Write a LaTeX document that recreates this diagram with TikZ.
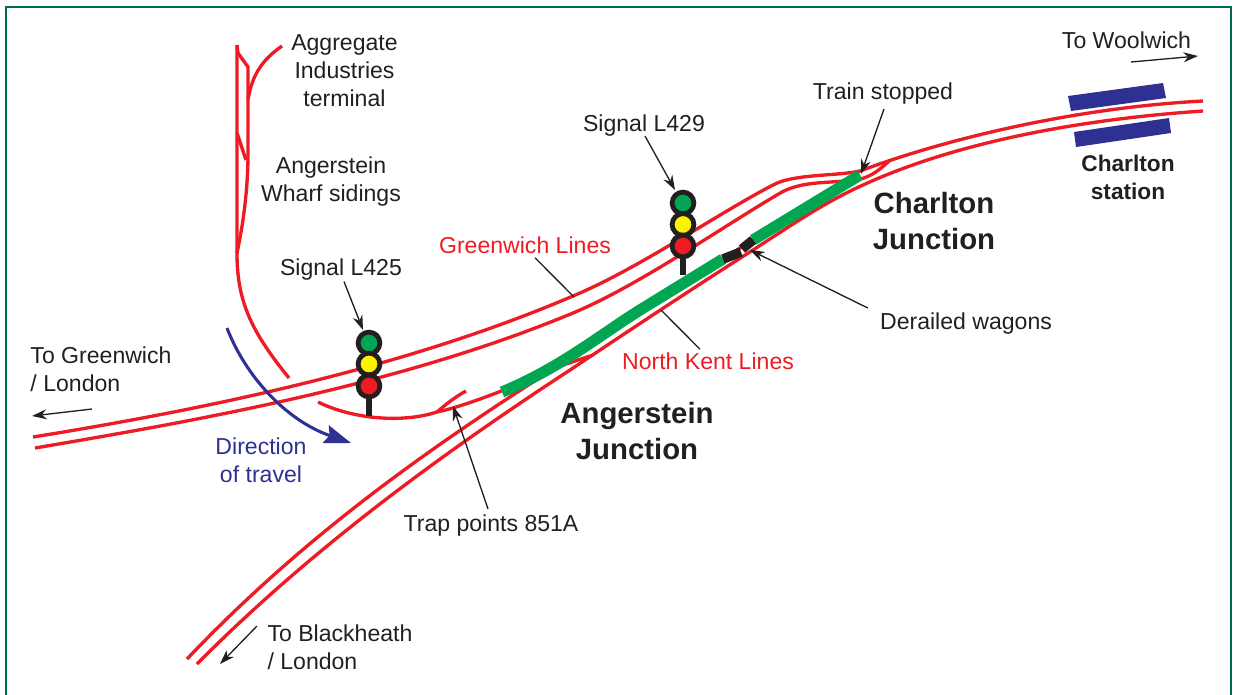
\documentclass[tikz,border=0pt]{standalone}
\usepackage{fontspec}
\setmainfont{Liberation Sans}
\usetikzlibrary{arrows.meta,positioning}
\definecolor{railred}{RGB}{237,28,36}
\definecolor{framegreen}{RGB}{0,107,84}
\definecolor{traingreen}{RGB}{0,166,81}
\definecolor{lampyellow}{RGB}{255,242,0}
\definecolor{navy}{RGB}{46,49,146}
\definecolor{inkblack}{RGB}{35,31,32}
\tikzset{
  rail/.style={ draw=railred, line width=2.5pt }
}
\tikzset{
  lbl/.style={ text=inkblack, font=\fontsize{17.3}{21}\selectfont, align=center, inner sep=0pt }
}
\tikzset{
  redlbl/.style={ lbl, text=railred }
}
\tikzset{
  bluelbl/.style={ lbl, text=navy }
}
\tikzset{
  junclbl/.style={ lbl, font=\fontsize{22}{27}\selectfont\bfseries }
}
\tikzset{
  stnlbl/.style={ lbl, font=\fontsize{17}{21}\selectfont\bfseries }
}
\tikzset{
  lead/.style={ draw=inkblack, line width=1pt }
}
\tikzset{
  ptr/.style={ lead, -{Stealth[length=11pt,width=7.5pt]} }
}
\tikzset{
  lamp/.style={ draw=inkblack, circle, line width=3.6pt, minimum size=16.3pt, inner sep=0pt }
}
\tikzset{
  post/.style={ draw=inkblack, line width=3.8pt }
}
\begin{document}
\begin{tikzpicture}[x=0.75pt, y=-0.75pt]
      \useasboundingbox (0, 0) rectangle (1234, 694);
      \draw[framegreen, line width=2pt] (6, 7) rectangle (1231, 720);
      % north kent lines
      \draw[rail] (187, 659) .. controls (300, 540) and (420, 455) .. (533, 382) .. controls (590, 343) and (660, 300) .. (722, 260) -- (752, 240) -- (860, 175);
      \draw[rail] (197, 664) .. controls (310, 550) and (440, 455) .. (570, 370) .. controls (630, 330) and (690, 290) .. (753, 250) .. controls (790, 226) and (825, 202) .. (863, 185) .. controls (950, 145) and (1070, 120) .. (1203, 111);
      % greenwich lines
      \draw[rail] (33, 437) .. controls (200, 410) and (400, 370) .. (573, 296) .. controls (640, 268) and (720, 212) .. (775, 184) .. controls (795, 174) and (838, 176) .. (860, 171) .. controls (940, 141) and (1070, 108) .. (1203, 101);
      \draw[rail] (35, 448) .. controls (200, 420) and (400, 385) .. (573, 313) .. controls (640, 285) and (725, 225) .. (782, 192) .. controls (805, 180) and (830, 184) .. (860, 179) .. controls (870, 177) and (880, 170) .. (890, 160);
      % side branch and trap points
      \draw[rail] (318, 402) .. controls (350, 418) and (400, 424) .. (437, 412) .. controls (470, 405) and (525, 382) .. (563, 365) -- (593, 355);
      \draw[rail] (437, 412) .. controls (445, 405) and (455, 397) .. (466, 391);
      % wharf sidings
      \draw[rail] (237, 45) -- (237, 253) .. controls (237, 300) and (250, 330) .. (289, 378);
      \draw[rail] (237, 45) -- (238, 53) -- (248, 67) -- (248, 153) .. controls (248, 190) and (243, 225) .. (237, 253);
      \draw[rail] (237, 133) -- (246, 160);
      \draw[rail] (282, 46) .. controls (262, 60) and (252, 75) .. (248, 100);
      % train and wagons
      \draw[traingreen, line width=8.4pt] (502, 392) .. controls (560, 368) and (600, 335) .. (640, 310) -- (723, 259);
      \draw[traingreen, line width=8.4pt] (753, 240) -- (860, 175);
      \draw[inkblack, line width=7.2pt] (723, 259) -- (741, 252);
      \draw[inkblack, line width=7.2pt] (742, 249) -- (753, 240);
      % station
      \fill[navy] (1068, 96) -- (1163, 83) -- (1166, 98) -- (1071, 111) -- cycle;
      \fill[navy] (1074, 132) -- (1169, 118) -- (1171, 133) -- (1076, 147) -- cycle;
      % signals
      \draw[post] (369, 386) -- (369, 416);
      \node[lamp, fill=traingreen] (gL425) at (369, 343) {};
      \node[lamp, fill=lampyellow] (yL425) at (369, 364) {};
      \node[lamp, fill=railred] (rL425) at (369, 386) {};
      \draw[post] (683, 246) -- (683, 275);
      \node[lamp, fill=traingreen] (gL429) at (683, 203) {};
      \node[lamp, fill=lampyellow] (yL429) at (683, 224.5) {};
      \node[lamp, fill=railred] (rL429) at (683, 246) {};
      % direction of travel
      \draw[navy, line width=2.3pt, -{Stealth[length=20pt,width=14pt,inset=3pt]}] (227, 328) .. controls (245, 375) and (285, 420) .. (351, 443);
      % labels
      \node[lbl] (aggr) at (344.5, 71) {Aggregate\\Industries\\terminal};
      \node[lbl] (wharf) at (331, 182) {Angerstein\\Wharf sidings};
      \node[lbl] (sL425) at (341, 270) {Signal L425};
      \node[lbl] (sL429) at (644, 126) {Signal L429};
      \node[lbl] (stopped) at (883, 94) {Train stopped};
      \node[lbl] (derail) at (966, 324) {Derailed wagons};
      \node[lbl] (trap) at (491, 526) {Trap points 851A};
      \node[lbl] (wool) at (1126.5, 40) {To Woolwich};
      \node[lbl, align=left] (green) at (101, 369) {To Greenwich\\/ London};
      \node[lbl, align=left] (black) at (340, 647) {To Blackheath\\/ London};
      \node[redlbl] (glines) at (525, 245) {Greenwich Lines};
      \node[redlbl] (nklines) at (708, 361) {North Kent Lines};
      \node[bluelbl] (dir) at (261, 460) {Direction\\of travel};
      \node[junclbl] (cjunc) at (934, 221) {Charlton\\Junction};
      \node[junclbl] (ajunc) at (637, 431) {Angerstein\\Junction};
      \node[stnlbl] (stn) at (1128, 177) {Charlton\\station};
      % leaders
      \coordinate (ptL425) at (363, 330);
      \coordinate (ptL429) at (675, 190);
      \coordinate (ptstop) at (861, 174);
      \coordinate (ptwag) at (750, 250);
      \coordinate (pttrap) at (453, 406);
      \coordinate (gltrack) at (574, 297);
      \coordinate (nktrack) at (661, 310);
      \coordinate (woolA) at (1131, 62);
      \coordinate (woolB) at (1198, 56);
      \coordinate (greenA) at (92, 409);
      \coordinate (greenB) at (32, 416);
      \coordinate (blackA) at (257, 626);
      \coordinate (blackB) at (220, 664);
      \draw[ptr] ([shift={(3, 0.5)}]sL425.south) -- (ptL425);
      \draw[ptr] ([shift={(1, -1)}]sL429.south) -- (ptL429);
      \draw[ptr] ([shift={(1, 4)}]stopped.south) -- (ptstop);
      \draw[ptr] ([shift={(-12, -16)}]derail.west) -- (ptwag);
      \draw[ptr] ([shift={(-3, -6)}]trap.north) -- (pttrap);
      \draw[lead] ([shift={(10, 4)}]glines.south) -- (gltrack);
      \draw[lead] ([shift={(-8, -3)}]nklines.north) -- (nktrack);
      \draw[ptr] (woolA) -- (woolB);
      \draw[ptr] (greenA) -- (greenB);
      \draw[ptr] (blackA) -- (blackB);
    \end{tikzpicture}
\end{document}
